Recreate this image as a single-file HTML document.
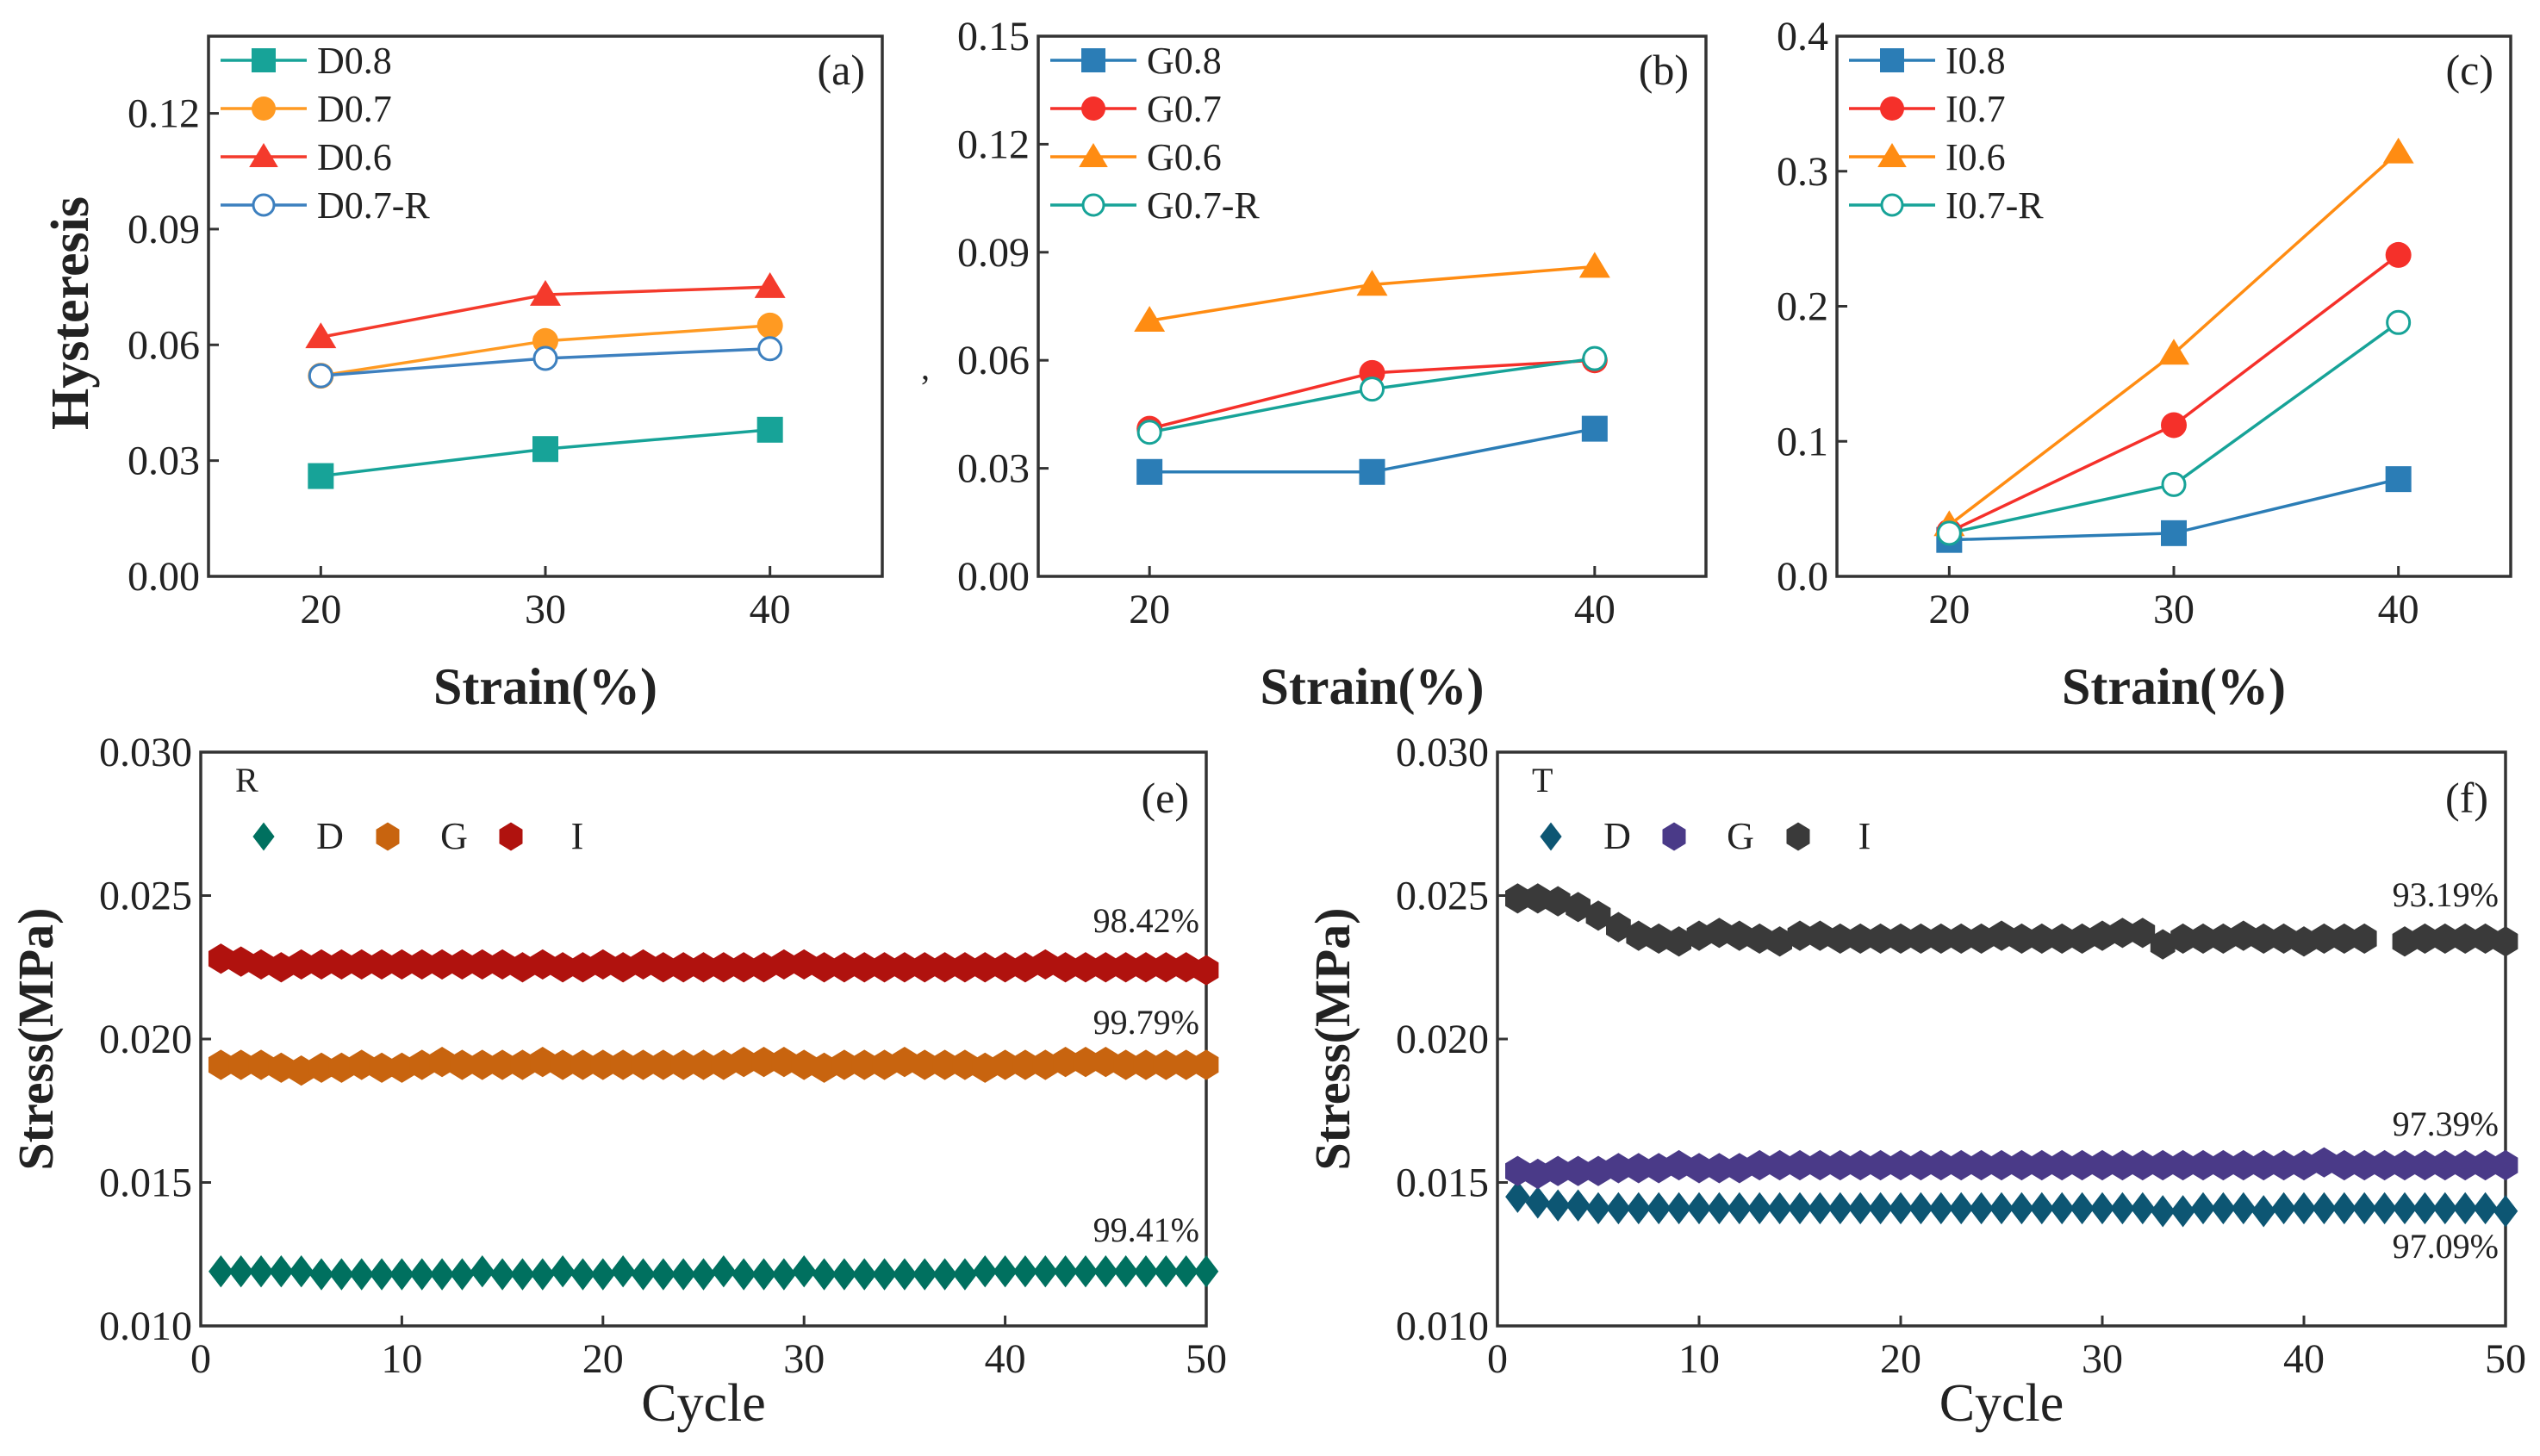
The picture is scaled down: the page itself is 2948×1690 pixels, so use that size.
<!DOCTYPE html>
<html><head><meta charset="utf-8"><style>
html,body{margin:0;padding:0;background:#fff}
svg{display:block}
text{font-family:"Liberation Serif",serif;fill:#222}
</style></head><body>
<svg id="fig" width="2948" height="1690" viewBox="0 0 2948 1690" xmlns="http://www.w3.org/2000/svg"></svg>
<script>
// ---------- data ----------
const strainCats = [20, 30, 40];
const aD08 = [0.026, 0.033, 0.038];
const aD07 = [0.052, 0.061, 0.065];
const aD06 = [0.062, 0.073, 0.075];
const aD07R = [0.052, 0.0565, 0.059];
const bG08 = [0.029, 0.029, 0.041];
const bG07 = [0.041, 0.0565, 0.060];
const bG06 = [0.071, 0.081, 0.086];
const bG07R = [0.040, 0.052, 0.0605];
const cI08 = [0.027, 0.032, 0.072];
const cI07 = [0.033, 0.112, 0.238];
const cI06 = [0.038, 0.165, 0.314];
const cI07R = [0.032, 0.068, 0.188];
const aTicks = ["0.00","0.03","0.06","0.09","0.12"];
const bTicks = ["0.00","0.03","0.06","0.09","0.12","0.15"];
const cTicks = ["0.0","0.1","0.2","0.3","0.4"];
const stressTicks = ["0.010","0.015","0.020","0.025","0.030"];
const cycleTicks = [0,10,20,30,40,50];
const eD = [0.0119,0.0119,0.0119,0.0119,0.0119,0.0118,0.0118,0.0118,0.0118,0.0118,0.0118,0.0118,0.0118,0.0119,0.0118,0.0118,0.0118,0.0119,0.0118,0.0118,0.0119,0.0118,0.0118,0.0118,0.0118,0.0119,0.0118,0.0118,0.0118,0.0119,0.0118,0.0118,0.0118,0.0118,0.0118,0.0118,0.0118,0.0118,0.0119,0.0119,0.0119,0.0119,0.0119,0.0119,0.0119,0.0119,0.0119,0.0119,0.0119,0.0119];
const eG = [0.0191,0.0191,0.0191,0.0190,0.0189,0.0190,0.0190,0.0191,0.0190,0.0190,0.0191,0.0192,0.0191,0.0191,0.0191,0.0191,0.0192,0.0191,0.0191,0.0191,0.0191,0.0191,0.0191,0.0191,0.0191,0.0191,0.0192,0.0192,0.0192,0.0191,0.0190,0.0191,0.0191,0.0191,0.0192,0.0191,0.0191,0.0191,0.0190,0.0191,0.0191,0.0191,0.0192,0.0192,0.0192,0.0191,0.0191,0.0191,0.0191,0.0191];
const eI = [0.0228,0.0227,0.0226,0.0225,0.0226,0.0226,0.0226,0.0226,0.0226,0.0226,0.0226,0.0226,0.0226,0.0226,0.0226,0.0225,0.0226,0.0225,0.0225,0.0226,0.0225,0.0226,0.0225,0.0225,0.0225,0.0225,0.0225,0.0225,0.0226,0.0226,0.0225,0.0225,0.0225,0.0225,0.0225,0.0225,0.0225,0.0225,0.0225,0.0225,0.0225,0.0226,0.0225,0.0225,0.0225,0.0225,0.0225,0.0225,0.0225,0.0224];
const fD = [0.0145,0.0143,0.0142,0.0142,0.0141,0.0141,0.0141,0.0141,0.0141,0.0141,0.0141,0.0141,0.0141,0.0141,0.0141,0.0141,0.0141,0.0141,0.0141,0.0141,0.0141,0.0141,0.0141,0.0141,0.0141,0.0141,0.0141,0.0141,0.0141,0.0141,0.0141,0.0141,0.0140,0.0140,0.0141,0.0141,0.0141,0.0140,0.0141,0.0141,0.0141,0.0141,0.0141,0.0141,0.0141,0.0141,0.0141,0.0141,0.0141,0.0140];
const fG = [0.0154,0.0153,0.0154,0.0154,0.0154,0.0155,0.0155,0.0155,0.0156,0.0155,0.0155,0.0155,0.0156,0.0156,0.0156,0.0156,0.0156,0.0156,0.0156,0.0156,0.0156,0.0156,0.0156,0.0156,0.0156,0.0156,0.0156,0.0156,0.0156,0.0156,0.0156,0.0156,0.0156,0.0156,0.0156,0.0156,0.0156,0.0156,0.0156,0.0156,0.0157,0.0156,0.0156,0.0156,0.0156,0.0156,0.0156,0.0156,0.0156,0.0156];
const fI = [0.0249,0.0249,0.0248,0.0246,0.0243,0.0239,0.0236,0.0235,0.0234,0.0236,0.0237,0.0236,0.0235,0.0234,0.0236,0.0236,0.0235,0.0235,0.0235,0.0235,0.0235,0.0235,0.0235,0.0235,0.0236,0.0235,0.0235,0.0235,0.0235,0.0236,0.0237,0.0237,0.0233,0.0235,0.0235,0.0235,0.0236,0.0235,0.0235,0.0234,0.0235,0.0235,0.0235,null,0.0234,0.0235,0.0235,0.0235,0.0235,0.0234];

// ---------- drawing ----------
const NS = "http://www.w3.org/2000/svg";
const svg = document.getElementById('fig');
function mk(tag, attrs, parent){const e=document.createElementNS(NS,tag);for(const k in attrs)e.setAttribute(k,attrs[k]);(parent||svg).appendChild(e);return e;}
function txt(s, x, y, size, anchor, parent, extra){const t=mk('text',Object.assign({x:x,y:y,'font-size':size,'text-anchor':anchor||'middle'},extra||{}),parent);t.textContent=s;return t;}

function marker(g, shape, x, y, color, sz){
  let e;
  if(shape==='square'){e=mk('rect',{x:x-sz/2,y:y-sz/2,width:sz,height:sz,fill:color},g);}
  else if(shape==='circle'){e=mk('circle',{cx:x,cy:y,r:sz/2,fill:color},g);}
  else if(shape==='open'){e=mk('circle',{cx:x,cy:y,r:sz/2-2,fill:'#fff',stroke:color,'stroke-width':3},g);}
  else if(shape==='tri'){const h=sz*0.95;e=mk('polygon',{points:`${x},${y-h*0.6} ${x+sz*0.6},${y+h*0.45} ${x-sz*0.6},${y+h*0.45}`,fill:color},g);}
  else if(shape==='diamond'){e=mk('polygon',{points:`${x},${y-sz*0.55} ${x+sz*0.42},${y} ${x},${y+sz*0.55} ${x-sz*0.42},${y}`,fill:color},g);}
  else if(shape==='hex'){const w=sz*0.45,h=sz*0.55;e=mk('polygon',{points:`${x},${y-h} ${x+w},${y-h/2} ${x+w},${y+h/2} ${x},${y+h} ${x-w},${y+h/2} ${x-w},${y-h/2}`,fill:color},g);}
  return e;
}

function frame(g, L, R, T, B){
  mk('rect',{x:L,y:T,width:R-L,height:B-T,fill:'none',stroke:'#333','stroke-width':3.5},g);
}

function topPanel(cfg){
  const g=mk('g',{});
  
  
  const {L,R,T,B,ymax,ticks}=cfg;
  const xs=v=>L+(v-15)/(45-15)*(R-L);
  const ys=v=>B-v/ymax*(B-T);
  frame(g,L,R,T,B);
  ticks.forEach((lab,i)=>{
    const v=i*cfg.tickStep; const y=ys(v);
    mk('line',{x1:L,x2:L+12,y1:y,y2:y,stroke:'#333','stroke-width':3},g);
    const t=txt(lab,L-10,y+16,48,'end',g);
    
    
  });
  cfg.xt.forEach(v=>{
    const x=xs(v);
    mk('line',{x1:x,x2:x,y1:B,y2:B-12,stroke:'#333','stroke-width':3},g);
    const t=txt(String(v),x,B+54,48,'middle',g);
    
    
  });
  cfg.series.forEach((s,si)=>{
    const sg=mk('g',{},g);
    
    
    const pts=s.data.map((v,i)=>xs(strainCats[i])+','+ys(v)).join(' ');
    mk('polyline',{points:pts,fill:'none',stroke:s.color,'stroke-width':3.5},sg);
    s.data.forEach((v,i)=>{
      const m=marker(sg,s.shape,xs(strainCats[i]),ys(v),s.color,30);
      
      
    });
    const ly=T+28+si*56, lx=L+14;
    const lg=mk('g',{},g);
    
    
    mk('line',{x1:lx,x2:lx+100,y1:ly,y2:ly,stroke:s.color,'stroke-width':3.5},lg);
    marker(lg,s.shape,lx+50,ly,s.color,28);
    txt(s.label,lx+112,ly+15,44,'start',lg);
  });
  const pl=txt(cfg.tag,R-20,T+56,50,'end',g);
  
  
  const xt=txt('Strain(%)',(L+R)/2,B+148,60,'middle',g,{'font-weight':'bold'});
  
  
  if(cfg.ytitle){
    const yt=txt(cfg.ytitle,0,0,62,'middle',g,{transform:`translate(${L-140},${(T+B)/2+8}) rotate(-90)`,'font-weight':'bold'});
    
    
  }
  return g;
}

topPanel({name:'panel-a',L:242,R:1024,T:42,B:669,ymax:0.14,tickStep:0.03,ticks:aTicks,xt:[20,30,40],tag:'(a)',ytitle:'Hysteresis',
  series:[{label:'D0.8',data:aD08,color:'#17a398',shape:'square'},{label:'D0.7',data:aD07,color:'#ff9a22',shape:'circle'},
          {label:'D0.6',data:aD06,color:'#f43a2c',shape:'tri'},{label:'D0.7-R',data:aD07R,color:'#3d80bf',shape:'open'}]});
topPanel({name:'panel-b',L:1205,R:1980,T:42,B:669,ymax:0.15,tickStep:0.03,ticks:bTicks,xt:[20,40],tag:'(b)',
  series:[{label:'G0.8',data:bG08,color:'#2b7db6',shape:'square'},{label:'G0.7',data:bG07,color:'#f5302a',shape:'circle'},
          {label:'G0.6',data:bG06,color:'#ff8c12',shape:'tri'},{label:'G0.7-R',data:bG07R,color:'#17a398',shape:'open'}]});
topPanel({name:'panel-c',L:2132,R:2914,T:42,B:669,ymax:0.4,tickStep:0.1,ticks:cTicks,xt:[20,30,40],tag:'(c)',
  series:[{label:'I0.8',data:cI08,color:'#2b7db6',shape:'square'},{label:'I0.7',data:cI07,color:'#f5302a',shape:'circle'},
          {label:'I0.6',data:cI06,color:'#ff8c12',shape:'tri'},{label:'I0.7-R',data:cI07R,color:'#17a398',shape:'open'}]});
mk('text',{x:1074,y:440,'font-size':40,'text-anchor':'middle'}).textContent=',';

function botPanel(cfg){
  const g=mk('g',{});
  
  
  const {L,R,T,B}=cfg;
  const xs=v=>L+v/50*(R-L);
  const ys=v=>B-(v-0.010)/0.020*(B-T);
  frame(g,L,R,T,B);
  stressTicks.forEach((lab,i)=>{
    const y=ys(0.010+i*0.005);
    mk('line',{x1:L,x2:L+12,y1:y,y2:y,stroke:'#333','stroke-width':3},g);
    const t=txt(lab,L-10,y+16,48,'end',g);
    
    
  });
  cycleTicks.forEach(v=>{
    const x=xs(v);
    mk('line',{x1:x,x2:x,y1:B,y2:B-12,stroke:'#333','stroke-width':3},g);
    const t=txt(String(v),x,B+54,48,'middle',g);
    
    
  });
  cfg.series.forEach(s=>{
    const sg=mk('g',{},g);
    
    
    s.data.forEach((v,i)=>{
      if(v===null) return;
      const m=marker(sg,s.shape,xs(i+1),ys(v),s.color,s.shape==='diamond'?34:32);
      
      
    });
  });
  txt(cfg.group,L+40,T+46,40,'start',g);
  cfg.series.forEach((s,i)=>{
    const lg=mk('g',{},g);
    
    
    const mx=L+cfg.legX[i];
    marker(lg,s.shape,mx,T+98,s.color,30);
    txt(s.label,mx+77,T+112,44,'middle',lg);
  });
  cfg.notes.forEach(n=>{
    const t=txt(n[0],R-8,n[1],40,'end',g);
    
    
  });
  const pl=txt(cfg.tag,R-20,T+70,50,'end',g);
  
  
  const xt=txt('Cycle',(L+R)/2,B+110,62,'middle',g);
  
  
  const yt=txt('Stress(MPa)',0,0,58,'middle',g,{transform:`translate(${L-172},${(T+B)/2}) rotate(-90)`,'font-weight':'bold'});
  
  
}
botPanel({name:'panel-e',L:233,R:1400,T:873,B:1539,group:'R',tag:'(e)',legX:[73,217,360],
  series:[{label:'D',data:eD,color:'#00705f',shape:'diamond'},{label:'G',data:eG,color:'#c8640f',shape:'hex'},{label:'I',data:eI,color:'#b0120e',shape:'hex'}],
  notes:[['98.42%',1082],['99.79%',1200],['99.41%',1441]]});
botPanel({name:'panel-f',L:1738,R:2908,T:873,B:1539,group:'T',tag:'(f)',legX:[62,205,349],
  series:[{label:'D',data:fD,color:'#0d5673',shape:'diamond'},{label:'G',data:fG,color:'#4a3a88',shape:'hex'},{label:'I',data:fI,color:'#3a3a3a',shape:'hex'}],
  notes:[['93.19%',1052],['97.39%',1318],['97.09%',1460]]});
</script>
</body></html>
